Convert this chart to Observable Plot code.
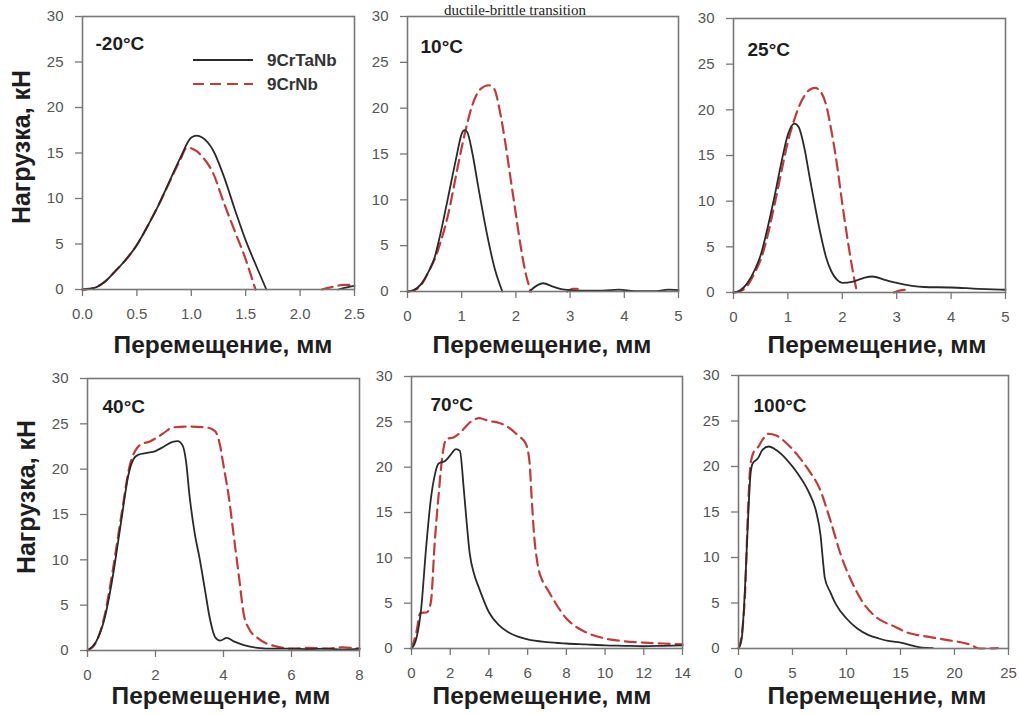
<!DOCTYPE html>
<html><head><meta charset="utf-8">
<script src="https://cdn.jsdelivr.net/npm/d3@7"></script>
<script src="https://cdn.jsdelivr.net/npm/@observablehq/plot@0.6"></script>
<style>
body{margin:0;background:#fff;}
#wrap{position:relative;width:1019px;height:715px;overflow:hidden;font-family:"Liberation Sans",Arial,sans-serif;}
#wrap svg{position:absolute;}
</style></head><body><div id="wrap"></div>
<script>
// ---- data ----
const figTitle = "ductile-brittle transition";
const temps = ["-20°C", "10°C", "25°C", "40°C", "70°C", "100°C"];
const seriesNames = ["9CrTaNb", "9CrNb"];
const xLabel = "Перемещение, мм";
const yLabel = "Нагрузка, кН";
const xMax = [2.5, 5, 5, 8, 14, 25];
const xTicks = [[0, 0.5, 1, 1.5, 2, 2.5], [0, 1, 2, 3, 4, 5], [0, 1, 2, 3, 4, 5], [0, 2, 4, 6, 8], [0, 2, 4, 6, 8, 10, 12, 14], [0, 5, 10, 15, 20, 25]];
const yTicks = [0, 5, 10, 15, 20, 25, 30];

// [displacement mm, load kN]; null breaks the line
const m20_TaNb = [[0,0],[0.1,0.15],[0.2,0.8],[0.3,2.0],[0.4,3.3],[0.5,4.9],[0.6,7.0],[0.7,9.3],[0.8,11.9],[0.9,14.5],[1.0,16.7],[1.05,16.9],[1.1,16.7],[1.2,15.3],[1.3,12.4],[1.4,8.8],[1.5,5.4],[1.6,2.5],[1.69,0],[1.7,null],[2.35,0],[2.45,0.3],[2.5,0.4]];
const m20_Nb = [[0,0],[0.1,0.15],[0.2,0.8],[0.3,2.0],[0.4,3.3],[0.5,4.9],[0.6,7.0],[0.7,9.3],[0.8,11.8],[0.9,14.3],[0.96,15.6],[1.05,15.2],[1.1,14.6],[1.2,12.8],[1.3,9.5],[1.4,6.4],[1.5,3.3],[1.59,0],[1.6,null],[2.2,0],[2.3,0.3],[2.4,0.5],[2.5,0.5]];
const p10_TaNb = [[0,0],[0.1,0.1],[0.25,0.8],[0.4,2.3],[0.5,3.7],[0.6,6.1],[0.75,10.3],[0.9,14.6],[1.0,17.2],[1.05,17.6],[1.1,17.4],[1.2,15.0],[1.3,11.6],[1.4,8.3],[1.5,5.3],[1.6,2.7],[1.75,0],[1.8,null],[2.25,0],[2.4,0.7],[2.5,0.9],[2.7,0.5],[2.9,0.2],[3.2,0.1],[3.6,0.1],[3.9,0.2],[4.2,0.05],[4.6,0.05],[4.8,0.2],[5,0.15]];
const p10_Nb = [[0,0],[0.1,0.1],[0.25,0.7],[0.4,2.3],[0.5,3.5],[0.6,5.2],[0.75,8.4],[0.9,12.8],[1.0,15.7],[1.1,18.3],[1.2,20.4],[1.35,22.1],[1.5,22.5],[1.6,22.1],[1.7,19.8],[1.8,16.4],[1.9,12.4],[2.0,8.4],[2.1,4.5],[2.2,1.5],[2.28,0],[2.3,null],[2.95,0],[3.05,0.3],[3.15,0.3],[3.2,0.1]];
const p25_TaNb = [[0,0],[0.1,0.15],[0.25,1.0],[0.4,2.6],[0.5,4.1],[0.6,6.4],[0.75,10.4],[0.9,14.8],[1.0,17.3],[1.12,18.5],[1.2,18.1],[1.3,15.9],[1.4,12.6],[1.5,9.4],[1.6,6.4],[1.7,3.9],[1.8,2.3],[1.9,1.4],[2.0,1.05],[2.2,1.2],[2.4,1.6],[2.55,1.75],[2.8,1.35],[3.0,1.05],[3.5,0.6],[4.0,0.55],[4.5,0.4],[5.0,0.3]];
const p25_Nb = [[0,0],[0.1,0.1],[0.25,0.7],[0.4,2.3],[0.5,3.6],[0.6,5.6],[0.75,9.5],[0.9,13.8],[1.0,16.5],[1.1,18.6],[1.2,20.3],[1.3,21.5],[1.4,22.2],[1.5,22.4],[1.6,22.0],[1.7,20.6],[1.8,17.7],[1.9,14.1],[2.0,9.7],[2.1,5.7],[2.2,2.1],[2.27,0],[2.3,null],[2.95,0],[3.05,0.2],[3.2,0.3]];
const p40_TaNb = [[0,0],[0.25,0.95],[0.5,3.5],[0.75,8.3],[1.0,14.5],[1.2,19.3],[1.35,21.1],[1.5,21.6],[1.75,21.8],[2.0,22.0],[2.25,22.5],[2.5,23.0],[2.65,23.1],[2.8,22.6],[2.9,20.8],[3.0,17.1],[3.15,13.0],[3.3,10.1],[3.45,6.8],[3.6,3.5],[3.75,1.5],[3.9,1.1],[4.1,1.4],[4.3,1.0],[4.6,0.6],[5.0,0.3],[5.5,0.2],[6.0,0.2],[6.5,0.15],[7.0,0.2],[7.5,0.1],[8.0,0.2]];
const p40_Nb = [[0,0],[0.25,0.9],[0.5,3.8],[0.75,9.0],[1.0,15.0],[1.25,20.5],[1.4,22.0],[1.6,22.8],[1.8,23.0],[2.0,23.4],[2.25,24.0],[2.5,24.6],[3.0,24.7],[3.5,24.6],[3.75,24.2],[3.9,22.6],[4.0,20.4],[4.15,17.1],[4.3,12.7],[4.45,8.3],[4.6,3.9],[4.75,2.4],[5.0,1.4],[5.25,0.8],[5.5,0.5],[6.0,0.2],[6.5,0.3],[7.0,0.2],[7.5,0.35],[8.0,0.2]];
const p70_TaNb = [[0,0],[0.25,1.1],[0.5,4.4],[0.75,11],[1.0,16.5],[1.2,19.1],[1.4,20.4],[1.75,20.7],[2.0,21.3],[2.3,22.0],[2.5,21.8],[2.7,17.6],[2.85,13.9],[3.0,10.6],[3.25,8.1],[3.5,6.6],[4.0,4.0],[4.5,2.6],[5.0,1.8],[5.5,1.3],[6.0,1.0],[7.0,0.7],[8.0,0.55],[9.0,0.45],[10,0.35],[11,0.3],[12,0.25],[13,0.3],[14,0.35]];
const p70_Nb = [[0,0],[0.25,1.8],[0.45,3.9],[0.8,4.0],[1.0,5.1],[1.2,11.7],[1.4,16.9],[1.6,21.3],[1.8,23.1],[2.2,23.3],[2.6,24.0],[3.0,24.9],[3.5,25.4],[4.0,25.1],[4.5,24.9],[5.0,24.4],[5.5,23.5],[5.9,22.6],[6.1,20.5],[6.2,16.9],[6.35,12.1],[6.5,9.5],[6.8,7.3],[7.0,6.6],[7.5,4.8],[8.0,3.3],[8.5,2.4],[9,1.8],[10,1.1],[11,0.8],[12,0.65],[13,0.55],[14,0.45]];
const p100_TaNb = [[0,0],[0.3,1.1],[0.6,6.6],[0.9,14.6],[1.1,19.0],[1.3,20.3],[1.8,20.9],[2.2,21.8],[2.8,22.2],[3.5,21.8],[4.5,20.7],[5.5,19.2],[6.5,17.2],[7.2,15.0],[7.6,12.4],[7.8,9.9],[8.0,7.7],[8.5,6.2],[9.0,4.9],[10,3.3],[11,2.2],[12,1.5],[13,1.1],[14,0.8],[15,0.65],[16,0.35],[17,0.1],[18,0.05]];
const p100_Nb = [[0,0],[0.3,1.5],[0.6,5.9],[0.9,15.7],[1.1,20.1],[1.4,21.6],[1.8,22.1],[2.2,22.9],[2.8,23.6],[3.5,23.4],[4.5,22.5],[5.5,21.2],[6.5,19.6],[7.5,17.6],[8.5,14.1],[9.5,10.2],[10.5,7.3],[11.5,5.1],[12.5,3.7],[13.5,2.9],[14.5,2.4],[15.5,1.8],[16.5,1.5],[17.5,1.3],[18.5,1.1],[19.5,0.9],[20.5,0.7],[21.5,0.4],[22.3,0],[23,0],[24,0.05]];

const curvesTaNb = [m20_TaNb, p10_TaNb, p25_TaNb, p40_TaNb, p70_TaNb, p100_TaNb];
const curvesNb = [m20_Nb, p10_Nb, p25_Nb, p40_Nb, p70_Nb, p100_Nb];

// ---- layout (pixel frames of each panel) ----
const frames = [[82,16,354,289],[407,16,678,291],[733,18,1005,292],[87,378,359,650],[411,376,682,648],[738,375,1008,648]];
const tempOffset = [[13,27],[13,30],[14,31],[15,28],[19,28],[15,30]];
const xTitlePos = [[223,353],[542,353],[877,353],[221,704],[542,704],[877,704]];
const yTitlePos = [[30,147],null,null,[35,497],null,null];

const FONT = "Liberation Sans, Arial, sans-serif";
const BLACK = "#2a2a2a", RED = "#c23a3a";
const ML = 70, MR = 16, MT = 12, MB = 40;
const wrap = document.getElementById("wrap");
const toObj = arr => arr.map(([x, y]) => ({x, y}));

frames.forEach(([x0, y0, x1, y1], i) => {
  const svg = Plot.plot({
    width: (x1 - x0) + ML + MR,
    height: (y1 - y0) + MT + MB,
    marginLeft: ML, marginRight: MR, marginTop: MT, marginBottom: MB,
    x: {domain: [0, xMax[i]]},
    y: {domain: [0, 30]},
    style: {background: "transparent", fontFamily: FONT, overflow: "visible"},
    marks: [
      Plot.axisX({ticks: xTicks[i], tickSize: 7, tickPadding: 12, fontSize: 15, stroke: "#777", fill: "#555", strokeWidth: 1.3,
        tickFormat: i === 0 ? d3.format(".1f") : d3.format("d"), label: null}),
      Plot.axisY({ticks: yTicks, tickSize: 7, tickPadding: 12, fontSize: 15, stroke: "#777", fill: "#555", strokeWidth: 1.3,
        tickFormat: d3.format("d"), label: null}),
      Plot.line(toObj(curvesNb[i]), {x: "x", y: "y", stroke: RED, strokeWidth: 2.2, strokeDasharray: "11,6", curve: "monotone-x"}),
      Plot.line(toObj(curvesTaNb[i]), {x: "x", y: "y", stroke: BLACK, strokeWidth: 1.8, curve: "monotone-x"}),
      Plot.frame({stroke: "#777", strokeWidth: 1.6}),
      Plot.text([temps[i]], {text: d => d, frameAnchor: "top-left", dx: tempOffset[i][0], dy: tempOffset[i][1],
        textAnchor: "start", lineAnchor: "middle", fontSize: 19, fontWeight: "bold", fill: "#1e1e1e"})
    ]
  });
  svg.style.left = (x0 - ML) + "px";
  svg.style.top = (y0 - MT) + "px";
  wrap.appendChild(svg);
});

// ---- overlay: titles, axis titles, legend ----
const ov = d3.select(wrap).append("svg").attr("width", 1019).attr("height", 715)
  .style("left", "0px").style("top", "0px").style("pointer-events", "none");
ov.append("text").attr("x", 515).attr("y", 14.5).attr("text-anchor", "middle")
  .style("font-family", "Liberation Serif, Times New Roman, serif").style("font-size", "15px").attr("fill", "#222").text(figTitle);
xTitlePos.forEach(([cx, by]) => {
  ov.append("text").attr("x", cx).attr("y", by).attr("text-anchor", "middle")
    .style("font-family", FONT).style("font-size", "24.5px").style("font-weight", "bold").attr("fill", "#1e1e1e").text(xLabel);
});
yTitlePos.forEach(p => {
  if (!p) return;
  ov.append("text").attr("transform", `translate(${p[0]},${p[1]}) rotate(-90)`).attr("text-anchor", "middle")
    .style("font-family", FONT).style("font-size", "25px").style("font-weight", "bold").attr("fill", "#1e1e1e").text(yLabel);
});
const leg = [[BLACK, null, 60], [RED, "11,6", 84]];
leg.forEach(([c, dash, y], k) => {
  const l = ov.append("line").attr("x1", 193).attr("x2", 253).attr("y1", y).attr("y2", y)
    .attr("stroke", c).attr("stroke-width", k ? 2.2 : 1.8);
  if (dash) l.attr("stroke-dasharray", dash);
  ov.append("text").attr("x", 267).attr("y", y + 6).style("font-family", FONT).style("font-size", "17px")
    .style("font-weight", "bold").attr("fill", "#333").text(seriesNames[k]);
});
</script></body></html>
